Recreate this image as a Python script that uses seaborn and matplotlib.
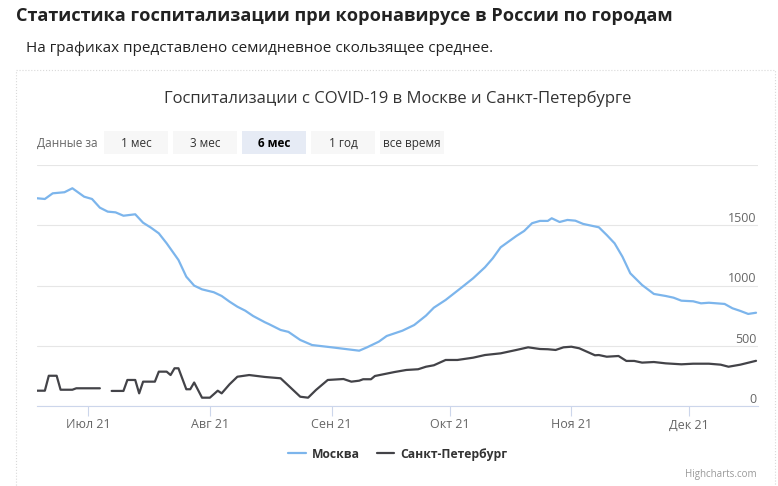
import pandas as pd
import matplotlib.pyplot as plt
import matplotlib.dates as mdates
from matplotlib.patches import Rectangle
from matplotlib.ticker import FixedLocator, FixedFormatter
import seaborn as sns

# Москва, семидневное скользящее среднее
msk_dates = ["2021-06-18", "2021-06-20", "2021-06-22", "2021-06-25", "2021-06-27", "2021-06-30",
             "2021-07-02", "2021-07-04", "2021-07-06", "2021-07-08", "2021-07-10", "2021-07-13",
             "2021-07-15", "2021-07-17", "2021-07-19", "2021-07-21", "2021-07-24", "2021-07-26",
             "2021-07-28", "2021-07-30", "2021-08-02", "2021-08-04", "2021-08-06", "2021-08-08",
             "2021-08-10", "2021-08-12", "2021-08-15", "2021-08-16", "2021-08-19", "2021-08-21",
             "2021-08-24", "2021-08-27", "2021-09-01", "2021-09-05", "2021-09-08", "2021-09-10",
             "2021-09-13", "2021-09-15", "2021-09-19", "2021-09-22", "2021-09-25", "2021-09-27",
             "2021-09-30", "2021-10-04", "2021-10-07", "2021-10-10", "2021-10-12", "2021-10-14",
             "2021-10-18", "2021-10-20", "2021-10-22", "2021-10-24", "2021-10-26", "2021-10-27",
             "2021-10-29", "2021-10-31", "2021-11-02", "2021-11-04", "2021-11-08", "2021-11-10",
             "2021-11-12", "2021-11-14", "2021-11-16", "2021-11-19", "2021-11-22", "2021-11-25",
             "2021-11-27", "2021-11-29", "2021-12-02", "2021-12-04", "2021-12-06", "2021-12-10",
             "2021-12-12", "2021-12-14", "2021-12-16", "2021-12-18"]
msk_values = [1724, 1718, 1765, 1774, 1807, 1737,
              1718, 1646, 1613, 1607, 1579, 1591,
              1521, 1480, 1433, 1350, 1212, 1073,
              999, 968, 944, 913, 866, 824,
              791, 747, 695, 680, 631, 615,
              548, 506, 487, 471, 459, 487,
              534, 581, 625, 672, 750, 816,
              880, 982, 1060, 1151, 1226, 1317,
              1411, 1453, 1517, 1536, 1536, 1558,
              1527, 1544, 1538, 1511, 1483, 1419,
              1350, 1239, 1101, 1004, 930, 913,
              899, 874, 869, 852, 857, 847,
              811, 789, 764, 774]

# Санкт-Петербург (None = пропуск в данных)
spb_dates = ["2021-06-18", "2021-06-20", "2021-06-21", "2021-06-23", "2021-06-24", "2021-06-27",
             "2021-06-28", "2021-07-04", "2021-07-05", "2021-07-07", "2021-07-10", "2021-07-11",
             "2021-07-13", "2021-07-14", "2021-07-15", "2021-07-18", "2021-07-19", "2021-07-21",
             "2021-07-22", "2021-07-23", "2021-07-24", "2021-07-26", "2021-07-27", "2021-07-28",
             "2021-07-30", "2021-08-01", "2021-08-03", "2021-08-04", "2021-08-06", "2021-08-08",
             "2021-08-11", "2021-08-15", "2021-08-19", "2021-08-21", "2021-08-24", "2021-08-26",
             "2021-08-28", "2021-08-31", "2021-09-04", "2021-09-06", "2021-09-08", "2021-09-09",
             "2021-09-11", "2021-09-12", "2021-09-17", "2021-09-20", "2021-09-23", "2021-09-25",
             "2021-09-27", "2021-09-30", "2021-10-03", "2021-10-07", "2021-10-10", "2021-10-14",
             "2021-10-18", "2021-10-21", "2021-10-24", "2021-10-26", "2021-10-28", "2021-10-30",
             "2021-11-01", "2021-11-03", "2021-11-07", "2021-11-08", "2021-11-10", "2021-11-13",
             "2021-11-15", "2021-11-17", "2021-11-19", "2021-11-22", "2021-11-25", "2021-11-29",
             "2021-12-02", "2021-12-06", "2021-12-09", "2021-12-11", "2021-12-14", "2021-12-18"]
spb_values = [127, 127, 251, 251, 135, 135,
              147, 147, None, 125, 125, 216,
              216, 105, 202, 202, 285, 285,
              257, 313, 313, 139, 139, 195,
              69, 69, 127, 105, 180, 243,
              257, 241, 230, 169, 77, 69,
              133, 216, 224, 202, 210, 222,
              222, 249, 282, 299, 305, 326,
              338, 382, 382, 401, 423, 437,
              465, 487, 473, 471, 465, 487,
              492, 479, 421, 423, 409, 415,
              374, 374, 360, 365, 354, 346,
              351, 351, 343, 326, 343, 375]

cities = ["Москва", "Санкт-Петербург"]
city_colors = ["#7cb5ec", "#434348"]

month_ticks = ["2021-07-01", "2021-08-01", "2021-09-01", "2021-10-01", "2021-11-01", "2021-12-01"]
month_labels = ["Июл 21", "Авг 21", "Сен 21", "Окт 21", "Ноя 21", "Дек 21"]
y_ticks = [0, 500, 1000, 1500, 2000]
y_labels = ["0", "500", "1000", "1500", ""]

buttons = ["1 мес", "3 мес", "6 мес", "1 год", "все время"]
selected_button = "6 мес"

W, H = 778, 486


def fx(px):
    return px / W


def fy(py):
    return 1 - py / H


msk = pd.DataFrame({"date": pd.to_datetime(msk_dates), "value": msk_values})
msk["city"] = cities[0]
msk["seg"] = "msk0"
spb = pd.DataFrame({"date": pd.to_datetime(spb_dates), "value": pd.to_numeric(pd.Series(spb_values), errors="coerce")})
spb["city"] = cities[1]
spb["seg"] = "spb" + spb["value"].isna().cumsum().astype(str)
df = pd.concat([msk, spb.dropna()], ignore_index=True)

sns.set_style("white")
plt.rcParams["font.family"] = ["Open Sans", "DejaVu Sans"]

fig = plt.figure(figsize=(W / 100, H / 100), dpi=100)
ax = fig.add_axes([fx(37), fy(406), fx(758) - fx(37), (406 - 165) / H])

sns.lineplot(data=df, x="date", y="value", hue="city", units="seg", estimator=None,
             palette=dict(zip(cities, city_colors)), hue_order=cities,
             linewidth=1.6, ax=ax, sort=True)

ax.set_xlim(pd.Timestamp("2021-06-18 00:00"), pd.Timestamp("2021-12-18 12:00"))
ax.set_ylim(0, 2000)
ax.set_xlabel("")
ax.set_ylabel("")

# ось Y: подписи справа, над линиями сетки
ax.yaxis.tick_right()
ax.yaxis.set_major_locator(FixedLocator(y_ticks))
ax.yaxis.set_major_formatter(FixedFormatter(y_labels))
ax.tick_params(axis="y", length=0, pad=-1, labelsize=9, labelcolor="#666666")
for lab in ax.get_yticklabels():
    lab.set_ha("right")
    lab.set_va("bottom")
ax.grid(axis="y", color="#e6e6e6", linewidth=0.8)
ax.set_axisbelow(True)

# ось X: месяцы
ax.xaxis.set_major_locator(FixedLocator(mdates.date2num(pd.to_datetime(month_ticks))))
ax.xaxis.set_major_formatter(FixedFormatter(month_labels))
ax.tick_params(axis="x", direction="out", length=7.5, width=0.8, color="#ccd6eb",
               pad=1.5, labelsize=9, labelcolor="#666666", bottom=True)

for side in ["top", "left", "right"]:
    ax.spines[side].set_visible(False)
ax.spines["bottom"].set_color("#ccd6eb")
ax.spines["bottom"].set_linewidth(0.8)

# легенда
sns.move_legend(ax, "center", bbox_to_anchor=(fx(398), fy(454)), bbox_transform=fig.transFigure,
                ncol=2, frameon=False, title=None, fontsize=8.7, handlelength=1.45,
                handletextpad=0.5, columnspacing=1.4)
for t in ax.get_legend().get_texts():
    t.set_fontweight("bold")
    t.set_color("#333333")

# заголовки
fig.text(fx(16), fy(16), "Статистика госпитализации при коронавирусе в России по городам",
         fontsize=13.1, fontweight="bold", color="#222222", va="center", ha="left")
fig.text(fx(26), fy(49), "На графиках представлено семидневное скользящее среднее.",
         fontsize=11, color="#222222", va="center", ha="left")

# рамка карточки
fig.add_artist(Rectangle((fx(16), -0.1), fx(775) - fx(16), fy(70) + 0.1, transform=fig.transFigure,
                         fill=False, edgecolor="#d9d9d9", linestyle=":", linewidth=0.8))

fig.text(fx(398), fy(99), "Госпитализации с COVID-19 в Москве и Санкт-Петербурге",
         fontsize=12, color="#333333", va="center", ha="center")

# кнопки выбора периода
fig.text(fx(37), fy(143), "Данные за", fontsize=8.5, color="#666666", va="center", ha="left")
for i, b in enumerate(buttons):
    x0 = 104 + i * 69
    sel = b == selected_button
    fig.add_artist(Rectangle((fx(x0), fy(154)), 64 / W, 23 / H, transform=fig.transFigure,
                             facecolor="#e6ebf5" if sel else "#f7f7f7", edgecolor="none"))
    fig.text(fx(x0 + 32), fy(143), b, fontsize=8.5, ha="center", va="center",
             color="#000000" if sel else "#333333", fontweight="bold" if sel else "normal")

fig.text(fx(757), fy(474), "Highcharts.com", fontsize=7, color="#999999", ha="right", va="center")

fig.savefig("out.png", dpi=100)
